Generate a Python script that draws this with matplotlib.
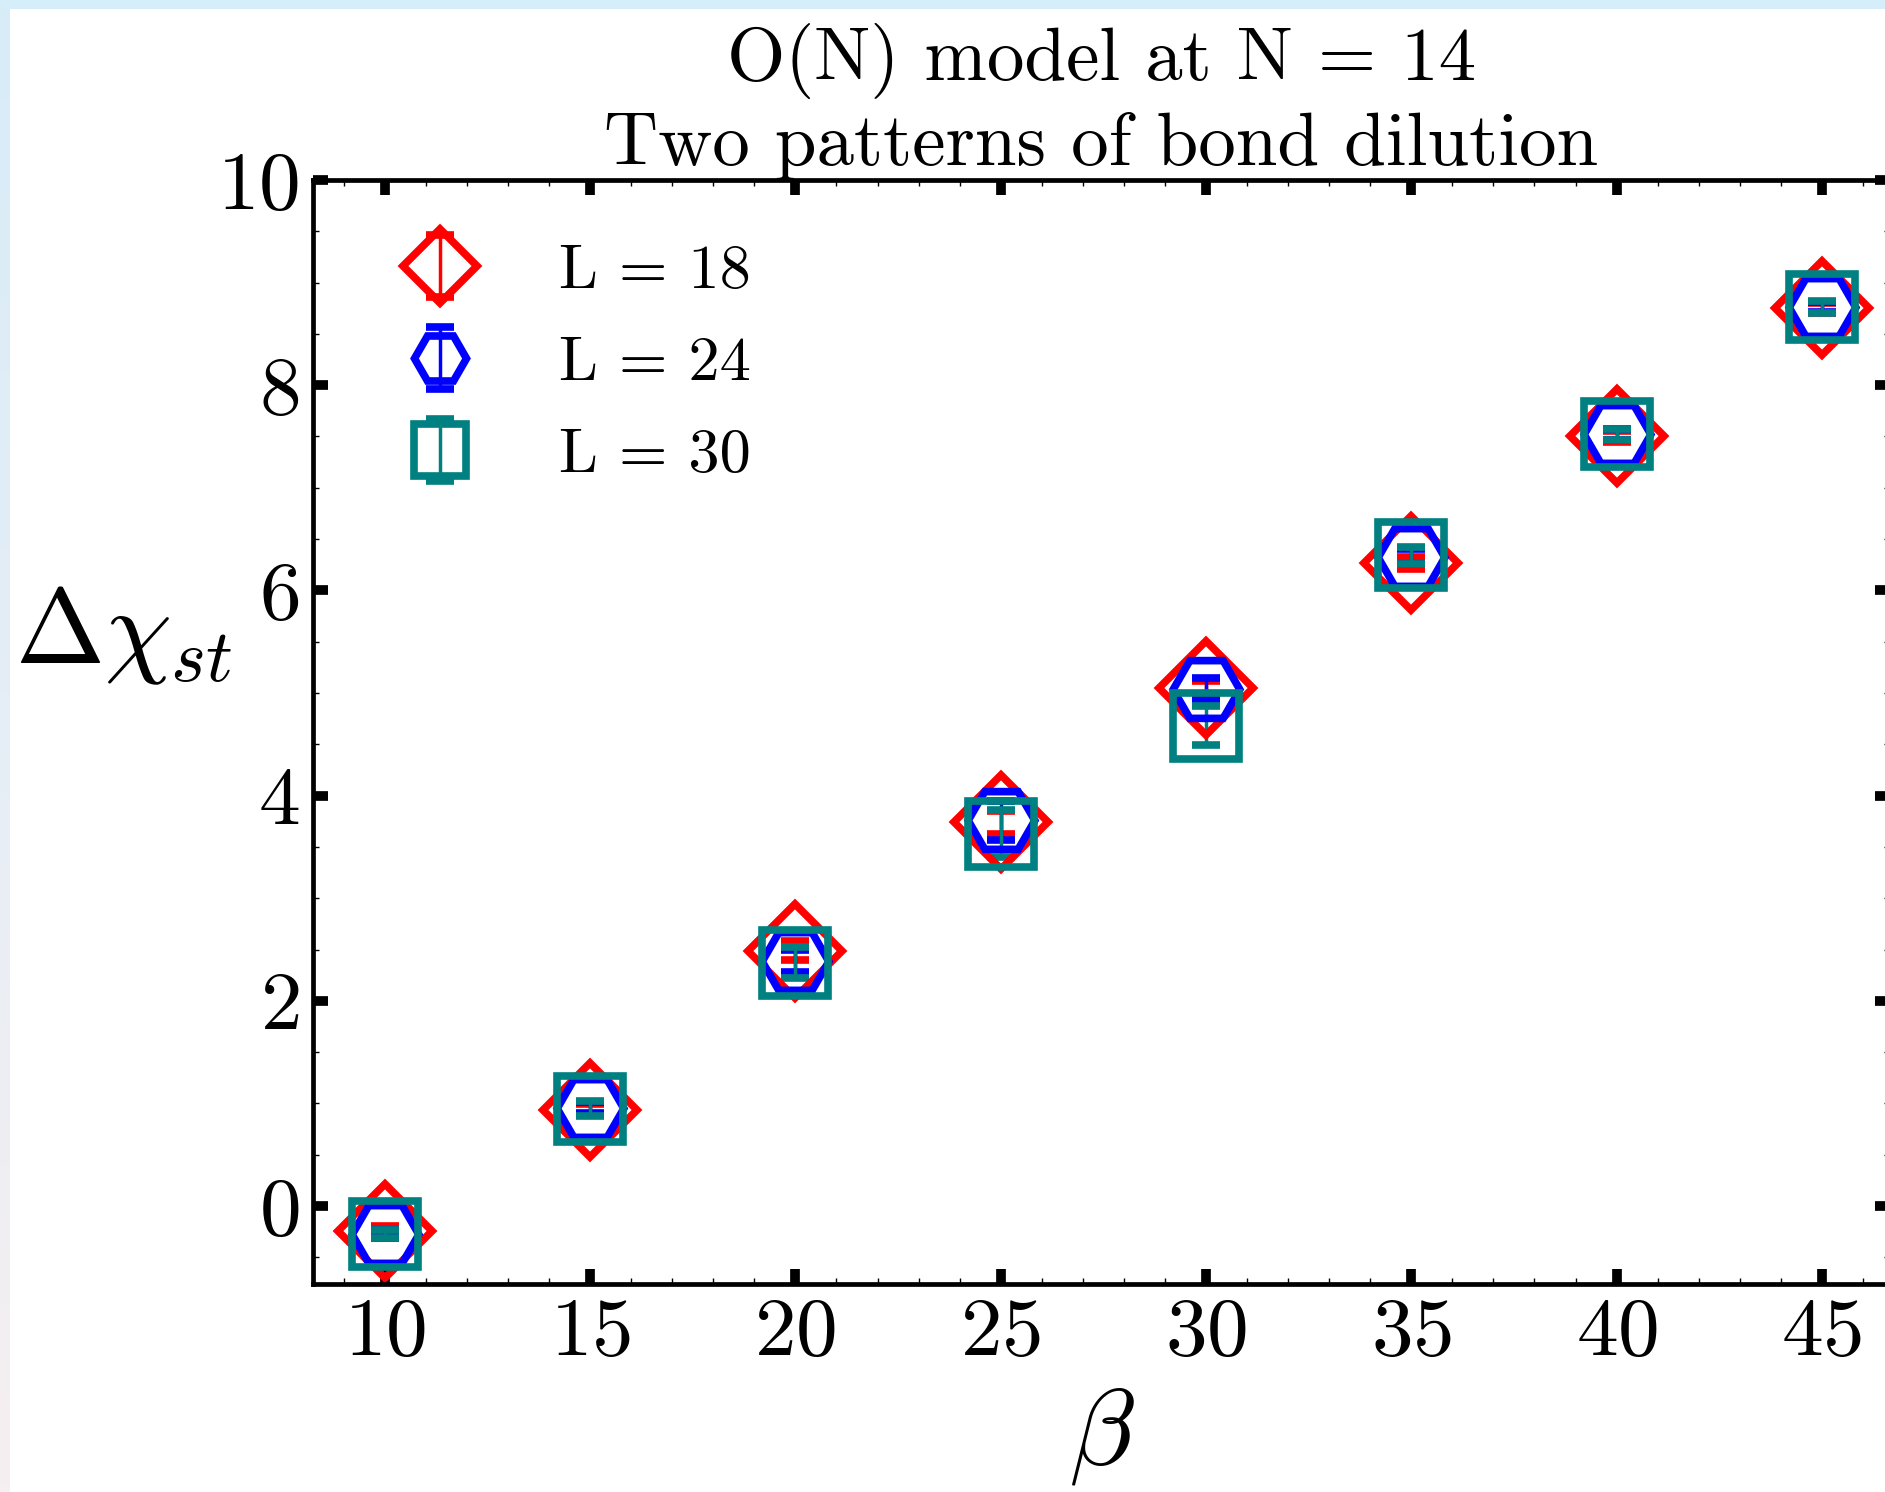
import numpy as np
import matplotlib
matplotlib.use("Agg")
import matplotlib.pyplot as plt
from matplotlib.colors import LinearSegmentedColormap
from matplotlib.ticker import MultipleLocator

# data
beta = [10, 15, 20, 25, 30, 35, 40, 45]

chi_L18 = [-0.24, 0.94, 2.49, 3.74, 5.05, 6.27, 7.50, 8.75]
err_L18 = [0.05, 0.05, 0.09, 0.11, 0.07, 0.06, 0.05, 0.05]

chi_L24 = [-0.27, 0.96, 2.39, 3.76, 5.04, 6.33, 7.52, 8.76]
err_L24 = [0.04, 0.05, 0.11, 0.19, 0.11, 0.07, 0.05, 0.05]

chi_L30 = [-0.27, 0.95, 2.37, 3.63, 4.68, 6.34, 7.52, 8.76]
err_L30 = [0.04, 0.07, 0.15, 0.23, 0.19, 0.08, 0.05, 0.06]

labels = ["L = 18", "L = 24", "L = 30"]

plt.rcParams['font.family'] = 'serif'
plt.rcParams['font.serif'] = ['cmr10']
plt.rcParams['mathtext.fontset'] = 'cm'
plt.rcParams['axes.unicode_minus'] = False
plt.rcParams['axes.formatter.use_mathtext'] = True

fig = plt.figure(figsize=(18.85, 14.92), dpi=100)

# light frame strips along top and left edge of the original screenshot
bg = fig.add_axes([0, 0, 1, 1], zorder=-10)
bg.set_xlim(0, 1885)
bg.set_ylim(1492, 0)
bg.axis('off')
grad = LinearSegmentedColormap.from_list('edge', ['#d7ecf8', '#e6eef6', '#f6eef0'])
bg.imshow(np.linspace(0, 1, 256).reshape(-1, 1), cmap=grad, aspect='auto',
          extent=(0, 10, 1492, 0))
bg.add_patch(plt.Rectangle((0, 0), 1885, 9, color='#d6eefa', lw=0))

ax = fig.add_axes([0.166, 0.1394, 0.8367, 0.7400])

common = dict(ls='none', mfc='none', ms=48, mew=5.5, elinewidth=2.5,
              capsize=10, capthick=5)
ax.errorbar(beta, chi_L18, yerr=err_L18, fmt='D', color='#ff0000',
            label=labels[0], **common)
ax.errorbar(beta, chi_L24, yerr=err_L24, fmt='H', color='#0000ff',
            label=labels[1], **common)
ax.errorbar(beta, chi_L30, yerr=err_L30, fmt='s', color='#008080',
            label=labels[2], **common)

ax.set_xlim(8.25, 46.66)
ax.set_ylim(-0.76, 10)
ax.xaxis.set_major_locator(MultipleLocator(5))
ax.xaxis.set_minor_locator(MultipleLocator(1))
ax.yaxis.set_major_locator(MultipleLocator(2))
ax.yaxis.set_minor_locator(MultipleLocator(0.5))

for s in ax.spines.values():
    s.set_linewidth(3.4)
ax.tick_params(which='both', direction='in', top=True, right=True)
ax.tick_params(which='major', length=11, width=7, labelsize=60, pad=10)
ax.tick_params(which='minor', length=4, width=1)

ax.set_title("O(N) model at N = 14\nTwo patterns of bond dilution",
             fontsize=54, pad=2, linespacing=1.25)

ax.set_xlabel(r'$\beta$', fontsize=78, va='center')
ax.xaxis.set_label_coords(0.5, -0.138)
ax.set_ylabel(r'$\Delta\chi_{st}$', fontsize=77, rotation=0,
              ha='center', va='center')
ax.yaxis.set_label_coords(-0.120, 0.587)

ax.legend(loc='upper left', bbox_to_anchor=(0.061, 0.942), frameon=False,
          fontsize=45, markerscale=0.78, handlelength=1.0,
          handletextpad=1.4, labelspacing=0.58, borderpad=0,
          borderaxespad=0)

fig.savefig('out.png', dpi=100)
